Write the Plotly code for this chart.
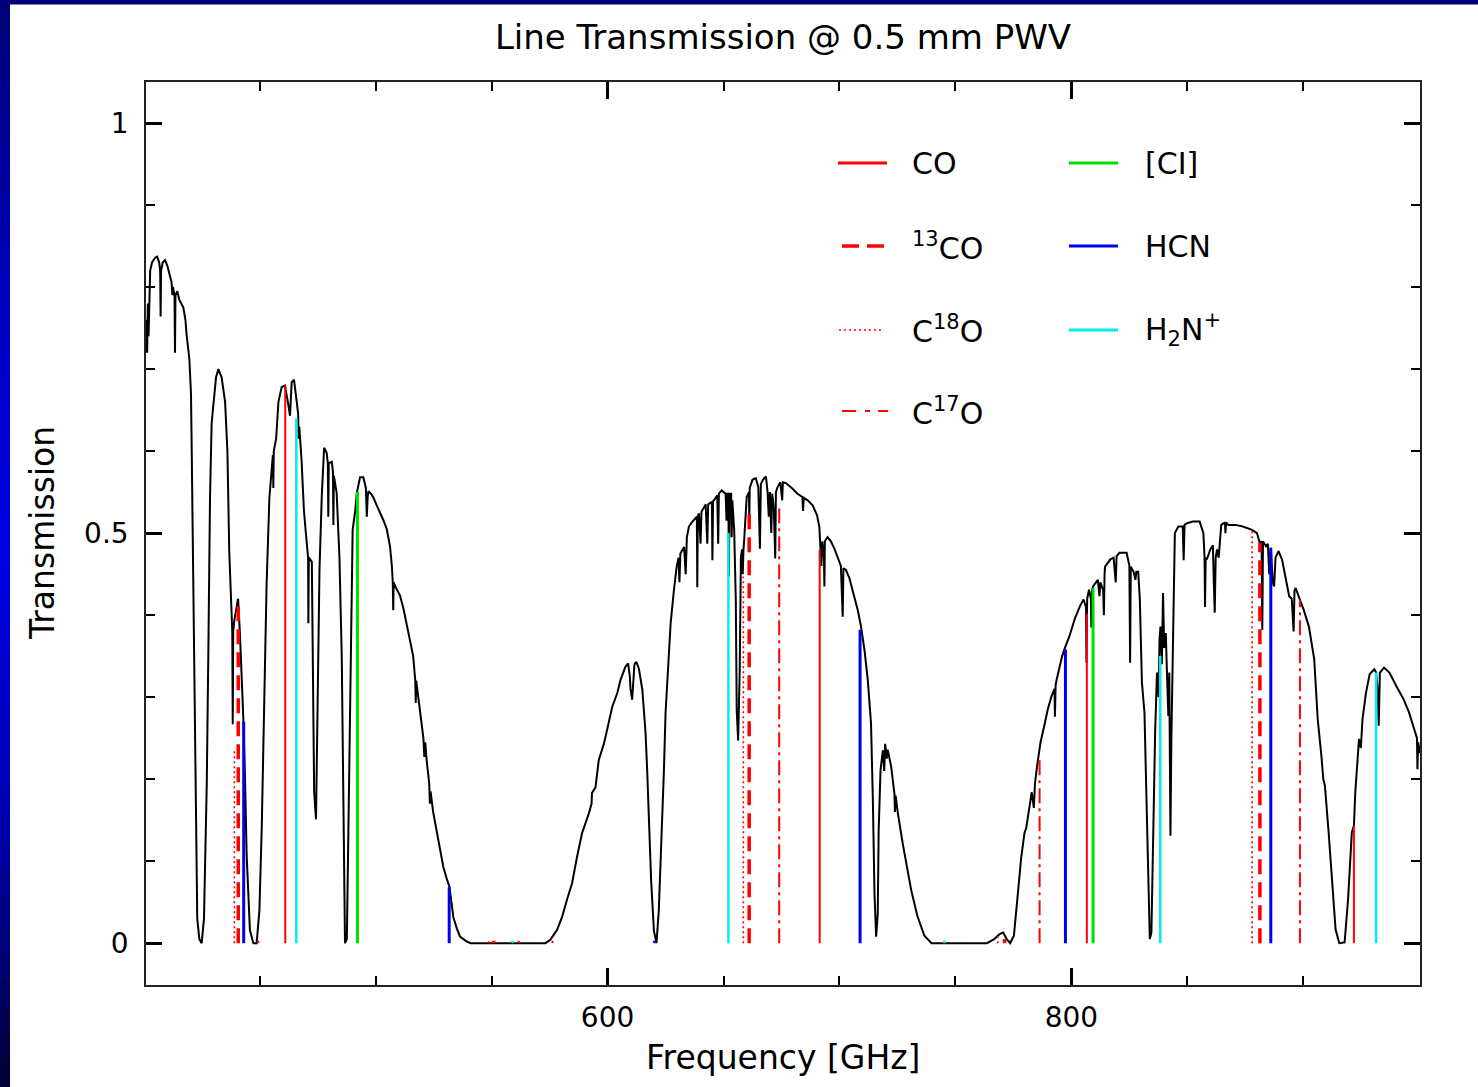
import plotly.graph_objects as go

# ---------------- data ----------------
freq_ghz = [
    401.0, 401.3, 401.5, 401.8, 402.1, 402.4, 402.8, 403.6, 405.0, 405.8,
    406.7, 407.1, 407.3, 407.5, 408.2, 409.2, 410.2, 411.2, 412.0, 412.4,
    412.6, 413.3, 413.5, 413.7, 414.5, 415.3, 416.2, 417.1, 418.0, 418.5,
    419.7, 420.4, 420.7, 421.1, 421.7, 422.6, 423.1, 424.0, 425.0, 426.0,
    426.6, 427.2, 427.9, 428.6, 429.3, 430.3, 431.2, 432.2, 433.6, 435.1,
    436.1, 436.9, 437.9, 438.2, 438.4, 438.6, 439.1, 440.1, 440.7, 441.5,
    442.3, 443.0, 443.7, 444.4, 445.8, 447.3, 448.7, 449.9, 450.9, 451.9,
    453.0, 454.2, 455.2, 455.7, 455.9, 456.1, 457.1, 458.1, 459.5, 460.9,
    462.4, 463.1, 463.8, 464.8, 466.0, 466.6, 466.8, 467.1, 468.1, 469.1,
    470.3, 470.9, 471.0, 471.2, 472.5, 472.9, 473.5, 474.3, 475.0, 475.8,
    476.8, 477.8, 478.9, 479.4, 479.6, 479.8, 481.1, 481.6, 481.8, 482.0,
    483.2, 484.4, 485.4, 486.1, 486.8, 487.6, 488.3, 489.0, 490.1, 491.2,
    491.9, 493.3, 494.7, 495.8, 496.2, 496.6, 496.9, 498.0, 499.1, 500.3,
    501.7, 503.3, 504.8, 506.2, 507.0, 507.4, 507.6, 507.8, 509.0, 510.5,
    512.0, 513.4, 514.8, 516.2, 517.1, 517.3, 517.5, 519.1, 520.6, 521.0,
    521.4, 522.0, 523.1, 523.4, 523.7, 524.8, 526.3, 527.8, 529.2, 530.5,
    531.8, 532.7, 533.5, 535.0, 536.4, 539.3, 541.0, 573.2, 575.3, 578.2,
    580.4, 582.5, 584.7, 586.9, 589.0, 591.9, 593.1, 593.3, 594.8, 596.2,
    598.4, 599.8, 602.0, 604.2, 605.6, 607.7, 608.9, 609.6, 609.9, 610.6,
    611.0, 611.6, 612.4, 613.5, 615.0, 616.4, 617.1, 617.8, 618.8, 620.0,
    621.1, 622.1, 622.9, 623.6, 624.3, 625.0, 626.0, 627.2, 628.6, 629.8,
    630.6, 631.0, 631.4, 633.0, 633.7, 634.2, 635.1, 636.6, 638.5, 638.7,
    638.9, 639.4, 640.1, 640.5, 640.9, 642.3, 643.0, 643.4, 643.8, 645.0,
    645.2, 645.5, 645.9, 647.3, 647.7, 648.0, 649.2, 650.9, 651.3, 651.6,
    652.1, 652.3, 652.6, 653.3, 653.5, 653.8, 654.6, 655.3, 655.7, 656.3,
    657.0, 657.5, 658.0, 658.3, 658.6, 658.9, 660.0, 661.0, 661.1, 661.3,
    662.5, 663.9, 665.0, 665.7, 666.1, 667.0, 668.3, 669.0, 669.5, 670.0,
    670.6, 671.0, 671.7, 672.3, 672.6, 673.3, 674.5, 675.3, 675.6, 676.9,
    679.8, 681.9, 684.0, 684.3, 684.6, 686.3, 688.4, 690.3, 691.3, 691.7,
    692.2, 692.6, 693.3, 693.5, 693.7, 694.9, 696.3, 697.8, 699.2, 700.6,
    701.4, 701.7, 702.8, 704.3, 706.4, 707.9, 709.3, 710.8, 712.2, 713.6,
    714.4, 715.1, 715.8, 716.5, 716.9, 717.7, 718.7, 719.3, 719.7, 720.4,
    720.8, 722.3, 723.7, 723.9, 724.2, 725.2, 727.3, 729.5, 730.9, 733.5,
    736.6, 739.7, 763.6, 766.7, 769.0, 770.6, 772.1, 773.6, 775.2, 776.7,
    778.3, 779.8, 780.5, 781.3, 782.9, 783.8, 784.3, 785.2, 786.7, 788.3,
    789.8, 791.4, 792.7, 792.9, 793.2, 793.7, 796.0, 797.2, 799.1, 801.4,
    803.7, 805.2, 806.3, 806.5, 806.8, 807.6, 808.4, 808.6, 808.9, 809.3,
    810.5, 811.4, 812.1, 812.5, 813.7, 814.0, 814.3, 814.5, 816.8, 818.2,
    819.1, 819.5, 820.7, 823.8, 825.0, 825.3, 825.6, 826.8, 827.6, 828.0,
    828.8, 829.5, 830.4, 831.5, 832.2, 833.0, 833.8, 834.5, 835.3, 836.1,
    836.9, 837.6, 838.0, 838.4, 839.0, 839.5, 840.0, 840.7, 841.3, 841.8,
    842.2, 842.7, 843.1, 843.8, 844.6, 846.1, 848.0, 848.4, 848.8, 849.9,
    852.3, 855.3, 856.9, 857.4, 857.6, 857.9, 858.4, 859.9, 861.0, 861.4,
    861.8, 862.2, 862.8, 863.5, 864.6, 866.2, 866.4, 866.7, 867.7, 870.8,
    873.9, 877.9, 880.0, 881.2, 882.0, 882.3, 882.6, 883.9, 884.7, 885.3,
    886.0, 886.8, 887.4, 888.0, 889.3, 890.8, 892.4, 893.9, 895.0, 895.8,
    896.2, 896.7, 898.5, 900.1, 902.4, 904.7, 906.2, 906.7, 907.0, 907.8,
    908.6, 909.3, 910.9, 912.4, 913.9, 915.5, 917.8, 919.3, 920.9, 921.8,
    922.4, 924.0, 924.8, 925.5, 927.0, 928.6, 930.6, 931.4, 932.0, 932.5,
    933.0, 934.8, 937.1, 940.2, 943.3, 945.6, 947.9, 949.0, 949.2, 949.5,
    950.3,
]
transmission = [
    0.720, 0.760, 0.720, 0.780, 0.740, 0.800, 0.820, 0.830, 0.836, 0.837,
    0.830, 0.820, 0.764, 0.820, 0.830, 0.833, 0.826, 0.815, 0.806, 0.790,
    0.800, 0.790, 0.720, 0.790, 0.795, 0.785, 0.780, 0.775, 0.760, 0.742,
    0.712, 0.670, 0.604, 0.513, 0.360, 0.156, 0.030, 0.005, 0.000, 0.030,
    0.107, 0.195, 0.360, 0.543, 0.634, 0.665, 0.690, 0.700, 0.690, 0.660,
    0.600, 0.477, 0.410, 0.380, 0.267, 0.380, 0.394, 0.410, 0.420, 0.377,
    0.328, 0.272, 0.200, 0.107, 0.016, 0.000, 0.000, 0.040, 0.140, 0.283,
    0.438, 0.543, 0.580, 0.595, 0.555, 0.600, 0.615, 0.660, 0.678, 0.680,
    0.656, 0.643, 0.684, 0.687, 0.660, 0.645, 0.615, 0.630, 0.587, 0.527,
    0.488, 0.470, 0.390, 0.470, 0.465, 0.330, 0.184, 0.151, 0.310, 0.455,
    0.546, 0.604, 0.598, 0.585, 0.520, 0.585, 0.587, 0.575, 0.510, 0.570,
    0.549, 0.471, 0.350, 0.151, 0.000, 0.005, 0.162, 0.328, 0.504, 0.527,
    0.549, 0.568, 0.568, 0.555, 0.520, 0.545, 0.551, 0.548, 0.543, 0.535,
    0.527, 0.516, 0.505, 0.484, 0.460, 0.440, 0.406, 0.440, 0.432, 0.424,
    0.408, 0.390, 0.370, 0.350, 0.320, 0.293, 0.320, 0.280, 0.250, 0.227,
    0.245, 0.223, 0.195, 0.170, 0.185, 0.160, 0.138, 0.115, 0.093, 0.080,
    0.069, 0.050, 0.032, 0.018, 0.008, 0.002, 0.000, 0.000, 0.004, 0.016,
    0.032, 0.053, 0.073, 0.106, 0.134, 0.158, 0.170, 0.183, 0.190, 0.223,
    0.243, 0.260, 0.288, 0.305, 0.321, 0.337, 0.341, 0.325, 0.310, 0.297,
    0.320, 0.340, 0.343, 0.335, 0.309, 0.256, 0.210, 0.153, 0.076, 0.015,
    0.000, 0.040, 0.100, 0.140, 0.210, 0.280, 0.330, 0.390, 0.430, 0.459,
    0.470, 0.440, 0.475, 0.483, 0.450, 0.495, 0.508, 0.514, 0.520, 0.434,
    0.520, 0.524, 0.487, 0.526, 0.528, 0.535, 0.487, 0.535, 0.536, 0.538,
    0.467, 0.539, 0.540, 0.546, 0.487, 0.548, 0.552, 0.548, 0.515, 0.548,
    0.548, 0.447, 0.548, 0.548, 0.495, 0.540, 0.504, 0.418, 0.284, 0.247,
    0.333, 0.471, 0.480, 0.450, 0.480, 0.491, 0.544, 0.550, 0.508, 0.555,
    0.565, 0.567, 0.556, 0.481, 0.560, 0.565, 0.569, 0.550, 0.520, 0.550,
    0.500, 0.548, 0.530, 0.469, 0.550, 0.556, 0.562, 0.540, 0.562, 0.561,
    0.554, 0.548, 0.544, 0.527, 0.543, 0.540, 0.534, 0.522, 0.508, 0.479,
    0.460, 0.490, 0.470, 0.435, 0.490, 0.495, 0.490, 0.481, 0.471, 0.460,
    0.398, 0.457, 0.455, 0.445, 0.422, 0.406, 0.386, 0.357, 0.321, 0.268,
    0.174, 0.060, 0.008, 0.036, 0.138, 0.211, 0.235, 0.210, 0.243, 0.225,
    0.236, 0.215, 0.182, 0.160, 0.180, 0.158, 0.121, 0.085, 0.065, 0.034,
    0.009, 0.000, 0.000, 0.005, 0.011, 0.013, 0.005, 0.000, 0.009, 0.054,
    0.103, 0.135, 0.140, 0.155, 0.184, 0.165, 0.195, 0.216, 0.245, 0.265,
    0.285, 0.301, 0.310, 0.276, 0.315, 0.322, 0.350, 0.360, 0.374, 0.395,
    0.411, 0.419, 0.410, 0.342, 0.420, 0.431, 0.420, 0.385, 0.430, 0.435,
    0.440, 0.443, 0.423, 0.440, 0.430, 0.400, 0.450, 0.459, 0.468, 0.470,
    0.440, 0.472, 0.476, 0.476, 0.460, 0.342, 0.459, 0.453, 0.443, 0.453,
    0.453, 0.419, 0.318, 0.281, 0.196, 0.094, 0.005, 0.013, 0.139, 0.257,
    0.330, 0.300, 0.370, 0.386, 0.340, 0.427, 0.360, 0.378, 0.320, 0.277,
    0.330, 0.131, 0.250, 0.366, 0.500, 0.508, 0.508, 0.467, 0.510, 0.512,
    0.514, 0.514, 0.500, 0.470, 0.410, 0.470, 0.468, 0.480, 0.485, 0.440,
    0.403, 0.470, 0.480, 0.470, 0.510, 0.513, 0.500, 0.513, 0.510, 0.510,
    0.508, 0.504, 0.500, 0.488, 0.490, 0.382, 0.490, 0.484, 0.487, 0.450,
    0.482, 0.440, 0.435, 0.470, 0.478, 0.468, 0.447, 0.423, 0.420, 0.380,
    0.430, 0.433, 0.419, 0.407, 0.386, 0.346, 0.273, 0.260, 0.245, 0.228,
    0.200, 0.192, 0.135, 0.074, 0.017, 0.000, 0.001, 0.054, 0.135, 0.143,
    0.184, 0.249, 0.238, 0.273, 0.305, 0.328, 0.334, 0.330, 0.310, 0.265,
    0.330, 0.336, 0.330, 0.313, 0.297, 0.281, 0.261, 0.250, 0.212, 0.245,
    0.232,
]

# spectral lines: rest frequency [GHz] and transmission at the line (top of stem)
co_freq = [461.04, 576.27, 691.47, 806.65, 921.80]
co_top = [0.680, 0.003, 0.480, 0.402, 0.143]
c13o_freq = [440.77, 550.93, 661.07, 771.18, 881.27]
c13o_top = [0.420, 0.003, 0.530, 0.005, 0.488]
c18o_freq = [439.09, 548.83, 658.55, 768.25, 877.92]
c18o_top = [0.236, 0.003, 0.447, 0.010, 0.504]
c17o_freq = [449.40, 561.71, 674.01, 786.28, 898.54]
c17o_top = [0.003, 0.003, 0.530, 0.224, 0.419]
ci_freq = [492.16, 809.34]
ci_top = [0.550, 0.433]
hcn_freq = [443.12, 531.72, 620.30, 708.88, 797.43, 885.97]
hcn_top = [0.270, 0.068, 0.003, 0.382, 0.358, 0.482]
n2h_freq = [465.82, 558.97, 652.10, 745.21, 838.31, 931.38]
n2h_top = [0.640, 0.003, 0.500, 0.003, 0.350, 0.330]

x_range = [401.0, 950.3]
y_range = [-0.051, 1.05]

# ---------------- page geometry ----------------
W, H = 1478, 1087
ML, MR, MT, MB = 146, 58, 82, 102
PW, PH = W - ML - MR, H - MT - MB


def px(xp):
    return (xp - ML) / PW


def py(yp):
    return (H - MB - yp) / PH


def stems(freqs, tops):
    xs, ys = [], []
    for f, t in zip(freqs, tops):
        xs += [f, f, None]
        ys += [0, t, None]
    return xs, ys


species = [
    # name, freqs, tops, color, width, dash, legend width, legend dash
    ("CO", co_freq, co_top, "#ff0000", 2.0, "solid", 3.0, "solid"),
    ("13CO", c13o_freq, c13o_top, "#ff0000", 3.5, "15px,8px", 3.5, "17px,8px"),
    ("C18O", c18o_freq, c18o_top, "#ff0000", 1.6, "2px,3px", 1.6, "2px,3px"),
    ("C17O", c17o_freq, c17o_top, "#ff0000", 2.0, "15px,5px,3px,5px", 2.0, "14px,9px,5px,8px"),
    ("CI", ci_freq, ci_top, "#00dd00", 3.0, "solid", 3.0, "solid"),
    ("HCN", hcn_freq, hcn_top, "#0000ee", 3.0, "solid", 3.0, "solid"),
    ("N2H+", n2h_freq, n2h_top, "#00eeee", 2.5, "solid", 3.0, "solid"),
]

fig = go.Figure()
fig.add_trace(go.Scatter(x=freq_ghz, y=transmission, mode="lines",
                         line=dict(color="black", width=2.0),
                         showlegend=False, hoverinfo="skip"))
for name, fr, tp, col, w, dash, lw, ldash in species:
    xs, ys = stems(fr, tp)
    fig.add_trace(go.Scatter(x=xs, y=ys, mode="lines", name=name,
                             line=dict(color=col, width=w, dash=dash),
                             showlegend=False, hoverinfo="skip"))

FONT = "DejaVu Sans"
shapes = []
annotations = []

# blue frame: gradient strip on the left, thin navy strip on top
stops = [(0, (0, 0, 118)), (300, (0, 0, 190)), (560, (0, 0, 228)),
         (820, (0, 0, 175)), (1087, (0, 0, 55))]


def col_at(y):
    for (y0, c0), (y1, c1) in zip(stops[:-1], stops[1:]):
        if y0 <= y <= y1:
            t = (y - y0) / (y1 - y0)
            return "rgb(%d,%d,%d)" % tuple(round(a + (b - a) * t) for a, b in zip(c0, c1))
    return "rgb(0,0,55)"


nb = 40
for i in range(nb):
    y0 = H * i / nb
    y1 = H * (i + 1) / nb + 3
    shapes.append(dict(type="rect", xref="paper", yref="paper", layer="below",
                       x0=px(-2), x1=px(10), y0=py(y1), y1=py(y0),
                       line=dict(width=0), fillcolor=col_at(H * (i + 0.5) / nb)))
shapes.append(dict(type="rect", xref="paper", yref="paper", layer="below",
                   x0=px(-2), x1=px(W + 2), y0=py(4.5), y1=py(-2),
                   line=dict(width=0), fillcolor="rgb(0,0,120)"))

# legend (drawn by hand, two columns)
legend_rows = [
    ("CO", "CO", 838, 887, 910, 163),
    ("13CO", "<sup>13</sup>CO", 842, 884, 910, 246),
    ("C18O", "C<sup>18</sup>O", 839, 883, 910, 330),
    ("C17O", "C<sup>17</sup>O", 842, 888, 910, 411),
    ("CI", "[CI]", 1069, 1118, 1143, 163),
    ("HCN", "HCN", 1069, 1118, 1143, 246),
    ("N2H+", "H<sub>2</sub>N<sup>+</sup>", 1069, 1118, 1143, 330),
]
style = {s[0]: s for s in species}
for key, label, lx0, lx1, tx, ty in legend_rows:
    s = style[key]
    shapes.append(dict(type="line", xref="paper", yref="paper",
                       x0=px(lx0), x1=px(lx1), y0=py(ty), y1=py(ty),
                       line=dict(color=s[3], width=s[6], dash=s[7])))
    annotations.append(dict(xref="paper", yref="paper", x=px(tx), y=py(ty),
                            xanchor="left", yanchor="middle", text=label,
                            showarrow=False,
                            font=dict(family=FONT, size=30, color="black")))

# axis titles
annotations.append(dict(xref="paper", yref="paper", x=px(42), y=py(533),
                        text="Transmission", textangle=-90, showarrow=False,
                        xanchor="center", yanchor="middle",
                        font=dict(family=FONT, size=33, color="black")))
annotations.append(dict(xref="paper", yref="paper", x=px(783), y=py(1057),
                        text="Frequency [GHz]", showarrow=False,
                        xanchor="center", yanchor="middle",
                        font=dict(family=FONT, size=33, color="black")))

axis_common = dict(showgrid=False, zeroline=False, showline=True,
                   linecolor="#222222", linewidth=1.6, mirror="allticks",
                   ticks="inside", tickcolor="black",
                   tickfont=dict(family=FONT, size=28, color="black"))

fig.update_layout(
    width=W, height=H,
    margin=dict(l=ML, r=MR, t=MT, b=MB, pad=0),
    paper_bgcolor="white", plot_bgcolor="white",
    showlegend=False,
    title=dict(text="Line Transmission @ 0.5 mm PWV", xref="paper", x=0.5,
               xanchor="center", yref="container", y=1 - 37 / H,
               yanchor="middle",
               font=dict(family=FONT, size=34, color="black")),
    xaxis=dict(range=x_range, tick0=0, dtick=200, ticklen=17, tickwidth=2.5,
               ticklabelstandoff=7,
               minor=dict(dtick=50, tick0=0, ticklen=9, tickwidth=1.5,
                          ticks="inside", tickcolor="black"),
               **axis_common),
    yaxis=dict(range=y_range, tick0=0, dtick=0.5, ticklen=16, tickwidth=2.5,
               ticklabelstandoff=10,
               minor=dict(dtick=0.1, tick0=0, ticklen=9, tickwidth=1.5,
                          ticks="inside", tickcolor="black"),
               **axis_common),
    shapes=shapes,
    annotations=annotations,
)

fig.write_html("out.html", config={"displayModeBar": False},
               post_script="document.body.style.margin='0px';document.body.style.overflow='hidden';")
